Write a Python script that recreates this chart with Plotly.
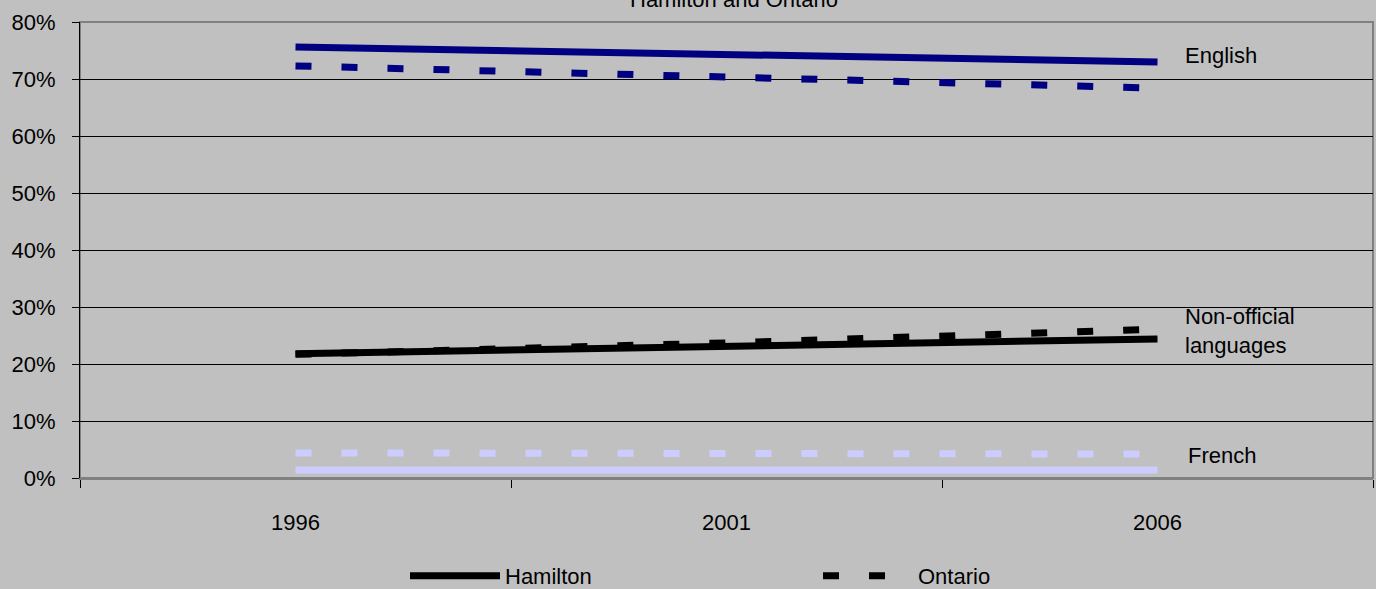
import plotly.graph_objects as go

years = ["1996", "2001", "2006"]
english_hamilton = [75.6, 74.2, 73.0]
english_ontario = [72.3, 70.4, 68.4]
nonofficial_hamilton = [21.8, 23.2, 24.4]
nonofficial_ontario = [21.7, 23.7, 26.1]
french_hamilton = [1.4, 1.4, 1.4]
french_ontario = [4.4, 4.3, 4.2]

y_ticks = [0, 10, 20, 30, 40, 50, 60, 70, 80]
y_tick_labels = [f"{v}%" for v in y_ticks]

NAVY = "#000080"
BLACK = "#000000"
LAVENDER = "#CCCCFF"
BG = "#C0C0C0"
FONT = "Liberation Sans, Arial, sans-serif"
DASH = "16px,30px"
W = 7

fig = go.Figure()

series = [
    (english_hamilton, NAVY, "solid", "English Hamilton", False),
    (english_ontario, NAVY, DASH, "English Ontario", False),
    (nonofficial_hamilton, BLACK, "solid", "Hamilton", True),
    (nonofficial_ontario, BLACK, DASH, "Ontario", True),
    (french_hamilton, LAVENDER, "solid", "French Hamilton", False),
    (french_ontario, LAVENDER, DASH, "French Ontario", False),
]
for vals, color, dash, name, show in series:
    fig.add_trace(go.Scatter(
        x=years, y=vals, mode="lines", name=name, showlegend=show,
        line=dict(color=color, width=W, dash=dash),
        hoverinfo="skip",
    ))

labels = [("English", 74.2, 0.853), ("Non-official<br>languages", 25.8, 0.853), ("French", 3.9, 0.855)]
for text, yv, xp in labels:
    fig.add_annotation(
        x=xp, xref="paper", y=yv, yref="y",
        text=text, showarrow=False, xanchor="left", yanchor="middle", align="left",
        font=dict(family=FONT, size=22, color="#000000"),
    )

fig.add_annotation(
    x=(734 - 80) / 1293, xref="paper", y=1, yref="paper", yshift=8,
    text="Hamilton and Ontario", showarrow=False, xanchor="center", yanchor="bottom",
    font=dict(family=FONT, size=22, color="#000000"),
)

fig.add_shape(type="rect", xref="paper", yref="paper", x0=0, x1=1, y0=0, y1=1,
              line=dict(color="#808080", width=2), layer="below")

fig.update_layout(
    width=1376, height=589,
    margin=dict(l=80, r=3, t=22, b=111, autoexpand=False),
    paper_bgcolor=BG, plot_bgcolor=BG,
    font=dict(family=FONT, size=22, color="#000000"),
    showlegend=True,
    legend=dict(
        orientation="h", x=(405 - 80) / 1293, xanchor="left",
        y=-(576 - 478) / 456, yanchor="middle",
        bgcolor="rgba(0,0,0,0)", entrywidth=308, entrywidthmode="pixels",
        font=dict(family="Liberation Sans Narrow, Arial Narrow, Liberation Sans, sans-serif", size=22),
        tracegroupgap=0, itemwidth=90,
    ),
    xaxis=dict(
        type="category", range=[-0.5, 2.5], tickson="boundaries",
        ticks="outside", ticklen=8, tickcolor="#000000",
        showgrid=False, showline=True, linecolor="#808080", linewidth=2,
        tickfont=dict(size=22), ticklabelstandoff=24,
        zeroline=False, automargin=False,
    ),
    yaxis=dict(
        range=[0, 80], tickvals=y_ticks, ticktext=y_tick_labels,
        ticks="outside", ticklen=7, tickcolor="#000000",
        showgrid=True, gridcolor="#000000", gridwidth=1,
        showline=True, linecolor="#000000", linewidth=1,
        zeroline=False, tickfont=dict(size=22), ticklabelstandoff=12,
        automargin=False,
    ),
)

fig.write_html(
    "out.html",
    config={"displayModeBar": False},
    post_script="document.body.style.margin='0';document.body.style.padding='0';",
)
